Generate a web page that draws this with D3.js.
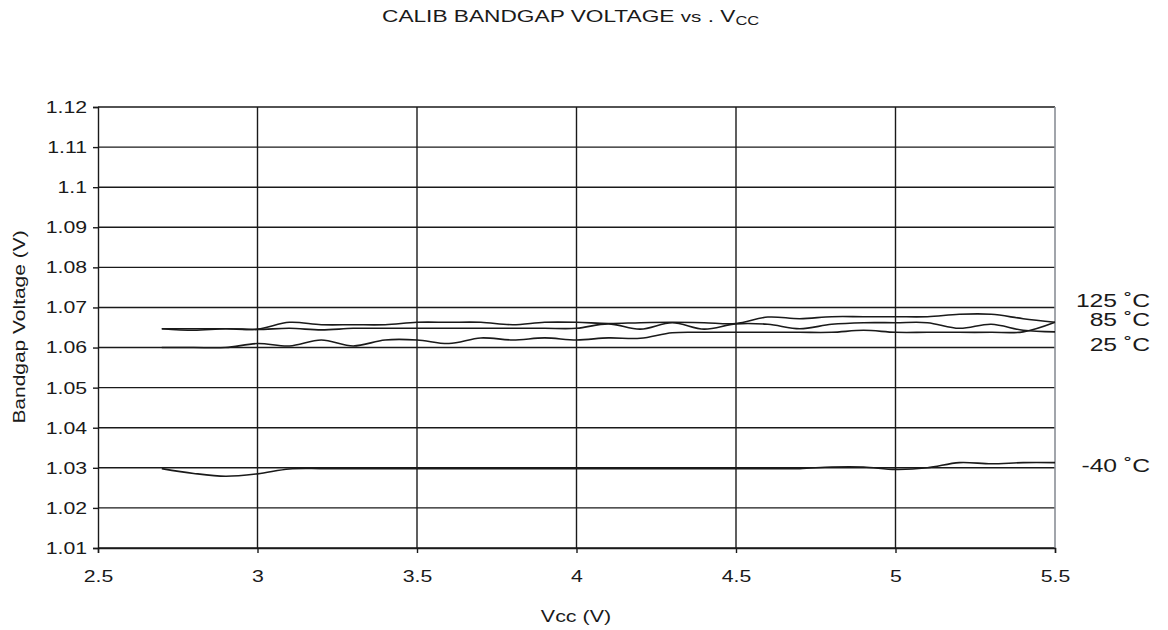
<!DOCTYPE html>
<html><head><meta charset="utf-8">
<script src="https://cdn.jsdelivr.net/npm/d3@7"></script>
<style>
body{margin:0;background:#fff;}
text{font-family:"Liberation Sans",Arial,sans-serif;fill:#1a1a1a;}
</style></head>
<body><svg id="c" width="1168" height="630"></svg>
<script>
const vcc = [2.7,2.8,2.9,3.0,3.1,3.2,3.3,3.4,3.5,3.6,3.7,3.8,3.9,4.0,4.1,4.2,4.3,4.4,4.5,4.6,4.7,4.8,4.9,5.0,5.1,5.2,5.3,5.4,5.5];
const t125 = [1.0647,1.0647,1.0647,1.0646,1.0663,1.0657,1.0657,1.0657,1.0663,1.0663,1.0663,1.0657,1.0663,1.0663,1.0660,1.0662,1.0663,1.0662,1.0660,1.0676,1.0672,1.0677,1.0677,1.0677,1.0677,1.0683,1.0683,1.0672,1.0663];
const t85  = [1.0647,1.0643,1.0647,1.0645,1.0648,1.0644,1.0648,1.0648,1.0648,1.0648,1.0648,1.0648,1.0648,1.0648,1.0659,1.0646,1.0662,1.0646,1.0659,1.0658,1.0647,1.0658,1.0662,1.0662,1.0662,1.0648,1.0658,1.0643,1.0639];
const t25  = [1.0600,1.0600,1.0600,1.0610,1.0604,1.0619,1.0604,1.0619,1.0619,1.0610,1.0624,1.0619,1.0624,1.0619,1.0624,1.0623,1.0637,1.0638,1.0638,1.0638,1.0638,1.0638,1.0643,1.0638,1.0638,1.0638,1.0638,1.0639,1.0663];
const tm40 = [1.0298,1.0286,1.0279,1.0285,1.0297,1.0298,1.0298,1.0298,1.0298,1.0298,1.0298,1.0298,1.0298,1.0298,1.0298,1.0298,1.0298,1.0298,1.0298,1.0298,1.0298,1.0302,1.0302,1.0296,1.0300,1.0313,1.0310,1.0313,1.0313];
const seriesNames = ["125 ˚C","85 ˚C","25 ˚C","-40 ˚C"];
const xTicks = [2.5,3,3.5,4,4.5,5,5.5];
const yTicks = [1.01,1.02,1.03,1.04,1.05,1.06,1.07,1.08,1.09,1.1,1.11,1.12];

const svg = d3.select("#c");
const x = d3.scaleLinear().domain([2.5,5.5]).range([98,1055]);
const y = d3.scaleLinear().domain([1.01,1.12]).range([548,107]);
const ink = "#1a1a1a";
const SX = 1.25; // horizontal stretch of the source lettering

function stretchAt(sel, s){
  sel.each(function(){
    const t = d3.select(this);
    const x0 = +t.attr("x") || 0;
    t.attr("transform", `translate(${x0},0) scale(${s},1) translate(${-x0},0)`);
  });
}

// grid
svg.append("g").selectAll("line").data(yTicks).join("line")
  .attr("x1",x(2.5)).attr("x2",x(5.5)).attr("y1",d=>y(d)).attr("y2",d=>y(d))
  .attr("stroke",ink).attr("stroke-width",1.4);
svg.append("g").selectAll("line").data(xTicks.slice(1,-1)).join("line")
  .attr("x1",d=>x(d)).attr("x2",d=>x(d)).attr("y1",y(1.12)).attr("y2",y(1.01))
  .attr("stroke",ink).attr("stroke-width",1.4);
svg.append("line").attr("x1",x(5.5)).attr("x2",x(5.5)).attr("y1",y(1.12)).attr("y2",y(1.01))
  .attr("stroke","#8a8f96").attr("stroke-width",1.6);

// axes
const yAxis = d3.axisLeft(y).tickValues(yTicks).tickSize(5).tickPadding(6).tickFormat(d=>String(+d.toFixed(2)));
const gy = svg.append("g").attr("transform",`translate(${x(2.5)},0)`).call(yAxis);
const xAxis = d3.axisBottom(x).tickValues(xTicks).tickSize(5).tickPadding(17).tickFormat(d=>String(d));
const gx = svg.append("g").attr("transform",`translate(0,${y(1.01)})`).call(xAxis);
[gx,gy].forEach(g=>{
  g.select(".domain").attr("stroke",ink).attr("stroke-width",1.4);
  g.selectAll(".tick line").attr("stroke",ink).attr("stroke-width",1.4);
  g.selectAll(".tick text").attr("font-size",17).attr("fill",ink)
   .style("font-family",'"Liberation Sans",Arial,sans-serif');
  stretchAt(g.selectAll(".tick text"), SX);
});

// series
const line = d3.line().x((d,i)=>x(vcc[i])).y(d=>y(d)).curve(d3.curveCatmullRom.alpha(0.5));
[t125,t85,t25,tm40].forEach(s=>{
  svg.append("path").attr("d",line(s)).attr("fill","none")
    .attr("stroke",ink).attr("stroke-width",1.6);
});

// series labels
const labelY = [307,326.5,351.5,472];
seriesNames.forEach((n,i)=>{
  const t = svg.append("text").attr("x",1150).attr("y",labelY[i]).attr("text-anchor","end")
    .attr("font-size",19).text(n);
  stretchAt(t, 1.3);
});

// title
const title = svg.append("text").attr("x",382).attr("y",22).attr("font-size",16.5);
title.append("tspan").text("CALIB BANDGAP  VOLTAGE ");
title.append("tspan").attr("font-size",15).text("vs");
title.append("tspan").text(" .  V");
title.append("tspan").attr("font-size",12).attr("dy",3).text("CC");
const tw = title.node().getBBox().width;
stretchAt(title, 378 / tw);

const xt = svg.append("text").attr("x",576).attr("y",622).attr("text-anchor","middle").attr("font-size",16.5).text("Vcc (V)");
stretchAt(xt, 1.3);
svg.append("text").attr("transform",`translate(25,327) rotate(-90) scale(1.27,1)`).attr("text-anchor","middle").attr("font-size",16.5).text("Bandgap Voltage (V)");
</script></body></html>
